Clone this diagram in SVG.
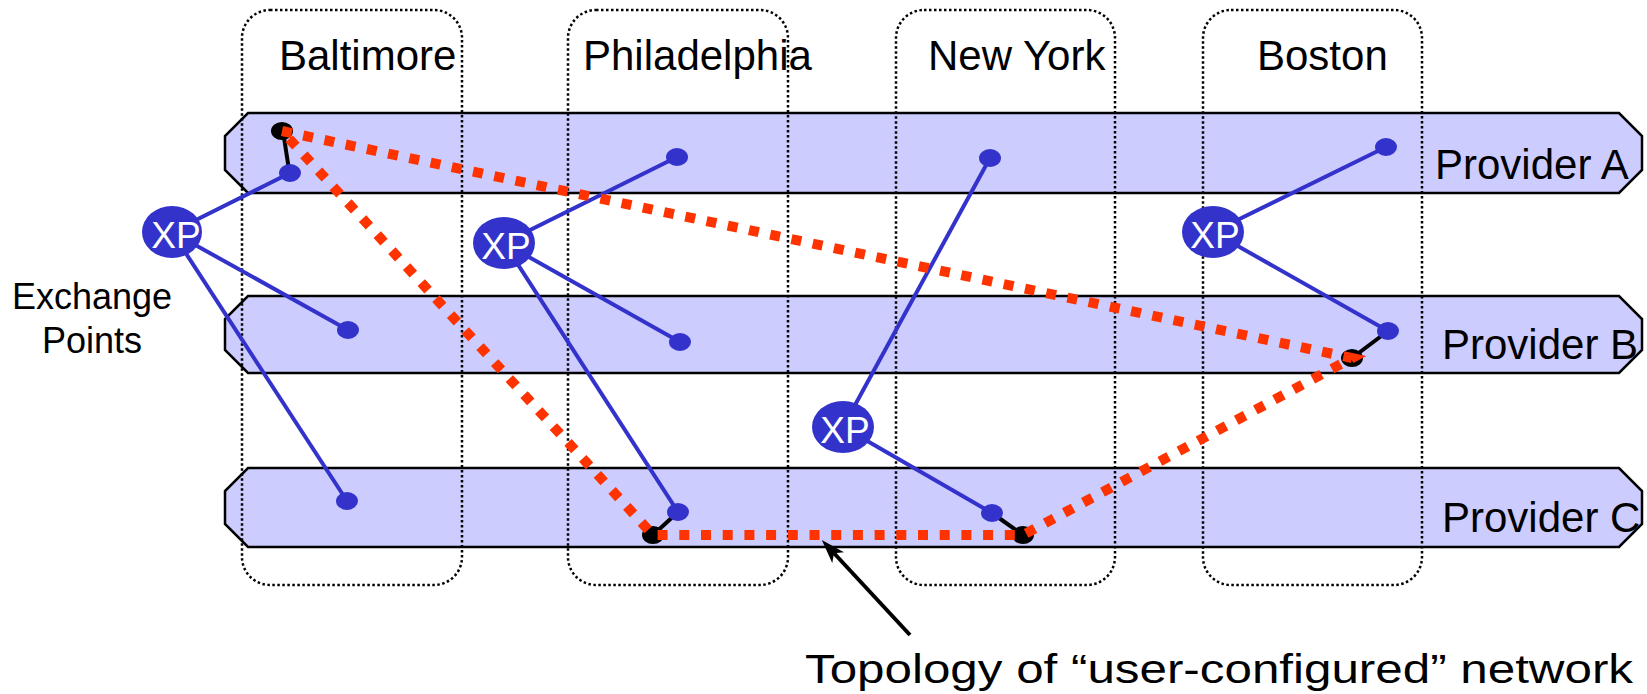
<svg xmlns="http://www.w3.org/2000/svg" width="1647" height="694" viewBox="0 0 1647 694">
<style>
.band{fill:#ccccff;stroke:#000;stroke-width:2.5}
.city{fill:none;stroke:#000;stroke-width:2.5;stroke-dasharray:2.5 2.5}
.lbl{font-family:"Liberation Sans",Arial,sans-serif;font-size:42px;fill:#000}
.xp{fill:#3333cc}
.xpt{font-family:"Liberation Sans",Arial,sans-serif;font-size:37px;fill:#fff;text-anchor:middle}
.bl{stroke:#3333cc;stroke-width:4;fill:none}
.dot{fill:#3333cc}
.blk{stroke:#000;stroke-width:4}
.end{fill:#000;stroke:#000;stroke-width:2}
.red{fill:none;stroke:#ff3300;stroke-width:10;stroke-dasharray:10 11.7;stroke-linejoin:miter}
</style>
<defs>
<marker id="ah" viewBox="-10 -10 26 20" markerWidth="26" markerHeight="20" refX="0" refY="0" orient="auto" markerUnits="userSpaceOnUse">
<path d="M15,0 L-9,-8 L-3,0 L-9,8 Z" fill="#000"/>
</marker>
</defs>
<rect width="1647" height="694" fill="#fff"/>
<g id="providerA"><polygon class="band" points="248,113 1619,113 1642,136 1642,170 1619,193 248,193 225,170 225,136"/></g>
<g id="providerB"><polygon class="band" points="248,296 1619,296 1642,319 1642,350 1619,373 248,373 225,350 225,319"/></g>
<g id="providerC"><polygon class="band" points="248,468 1619,468 1642,491 1642,524 1619,547 248,547 225,524 225,491"/></g>
<g id="baltimore"><rect class="city" x="242" y="10" width="220" height="575" rx="28"/><text class="lbl" x="279" y="70">Baltimore</text></g>
<g id="philadelphia"><rect class="city" x="568" y="10" width="220" height="575" rx="28"/><text class="lbl" x="583" y="70">Philadelphia</text></g>
<g id="newyork"><rect class="city" x="896" y="10" width="219" height="575" rx="28"/><text class="lbl" x="928" y="70">New York</text></g>
<g id="boston"><rect class="city" x="1203" y="10" width="219" height="575" rx="28"/><text class="lbl" x="1257" y="70">Boston</text></g>
<g id="connectors">
<line class="bl" x1="172" y1="232" x2="290" y2="173"/>
<line class="bl" x1="172" y1="232" x2="348" y2="330"/>
<line class="bl" x1="172" y1="232" x2="347" y2="501"/>
<line class="bl" x1="504" y1="243" x2="677" y2="157"/>
<line class="bl" x1="504" y1="243" x2="680" y2="342"/>
<line class="bl" x1="504" y1="243" x2="678" y2="512"/>
<line class="bl" x1="843" y1="427" x2="990" y2="158"/>
<line class="bl" x1="843" y1="427" x2="992" y2="513"/>
<line class="bl" x1="1213" y1="232" x2="1386" y2="147"/>
<line class="bl" x1="1213" y1="232" x2="1388" y2="331"/>
<line class="blk" x1="283" y1="131" x2="289" y2="170"/>
<line class="blk" x1="653" y1="535" x2="678" y2="512"/>
<line class="blk" x1="992" y1="513" x2="1023" y2="535"/>
<line class="blk" x1="1388" y1="331" x2="1352" y2="358"/>
<line x1="910" y1="635" x2="832" y2="551" stroke="#000" stroke-width="4" marker-end="url(#ah)"/>
</g>
<g id="dots">
<ellipse class="dot" cx="290" cy="173" rx="11" ry="9"/>
<ellipse class="dot" cx="348" cy="330" rx="11" ry="9"/>
<ellipse class="dot" cx="347" cy="501" rx="11" ry="9"/>
<ellipse class="dot" cx="677" cy="157" rx="11" ry="9"/>
<ellipse class="dot" cx="680" cy="342" rx="11" ry="9"/>
<ellipse class="dot" cx="678" cy="512" rx="11" ry="9"/>
<ellipse class="dot" cx="990" cy="158" rx="11" ry="9"/>
<ellipse class="dot" cx="992" cy="513" rx="11" ry="9"/>
<ellipse class="dot" cx="1386" cy="147" rx="11" ry="9"/>
<ellipse class="dot" cx="1388" cy="331" rx="11" ry="9"/>
</g>
<g id="ends">
<ellipse class="end" cx="282" cy="131" rx="10" ry="8"/>
<ellipse class="end" cx="653" cy="535" rx="10" ry="8"/>
<ellipse class="end" cx="1023" cy="535" rx="10" ry="8"/>
<ellipse class="end" cx="1352" cy="358" rx="10" ry="8"/>
</g>
<g id="xp1"><ellipse class="xp" cx="172" cy="232" rx="30" ry="26"/><text class="xpt" x="176" y="248">XP</text></g>
<g id="xp2"><ellipse class="xp" cx="504" cy="243" rx="31" ry="26"/><text class="xpt" x="506" y="259">XP</text></g>
<g id="xp3"><ellipse class="xp" cx="843" cy="427" rx="31" ry="26"/><text class="xpt" x="845" y="443">XP</text></g>
<g id="xp4"><ellipse class="xp" cx="1213" cy="232" rx="31" ry="26"/><text class="xpt" x="1215" y="248">XP</text></g>
<g id="userNetwork">
<polygon class="red" points="282,131 1352,358 1023,535 653,535"/>
</g>
<g id="labels">
<text class="lbl" x="1435" y="179">Provider A</text>
<text class="lbl" x="1442" y="359">Provider B</text>
<text class="lbl" x="1442" y="532">Provider C</text>
<text class="lbl" style="font-size:36px" x="92" y="309" text-anchor="middle">Exchange</text>
<text class="lbl" style="font-size:36px" x="92" y="353" text-anchor="middle">Points</text>
<text class="lbl" style="font-size:40px" x="805" y="683" textLength="828" lengthAdjust="spacingAndGlyphs">Topology of “user-configured” network</text>
</g>
</svg>
